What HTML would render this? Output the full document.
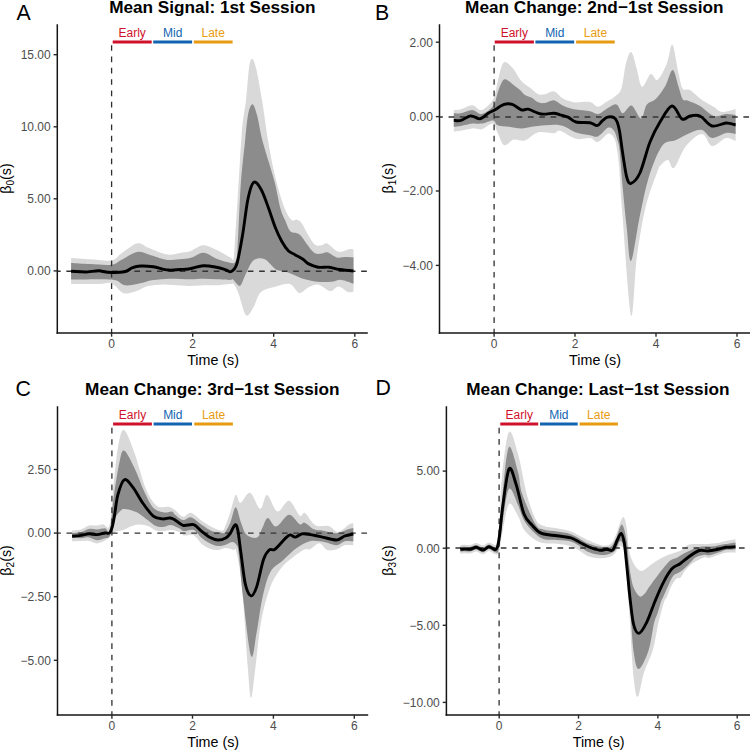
<!DOCTYPE html>
<html><head><meta charset="utf-8"><style>
html,body{margin:0;padding:0;background:#fff;width:750px;height:750px;overflow:hidden}
svg{display:block;font-family:"Liberation Sans",sans-serif}
</style></head><body>
<svg width="750" height="750" viewBox="0 0 750 750">
<rect width="750" height="750" fill="#fff"/>
<clipPath id="cA"><rect x="57.3" y="4.300000000000001" width="315.5" height="328.7"/></clipPath>
<g clip-path="url(#cA)">
<path d="M71.1,258.0C74.2,258.2 83.3,258.9 90.0,259.3C96.7,259.7 106.3,261.4 111.5,260.4C116.7,259.4 117.0,256.4 121.3,253.5C125.6,250.7 132.9,244.3 137.3,243.3C141.8,242.3 144.3,246.1 148.0,247.6C151.7,249.1 156.0,251.2 159.7,252.4C163.4,253.6 166.6,254.6 170.0,254.7C173.4,254.8 176.7,253.6 180.0,253.0C183.3,252.4 186.1,252.6 190.0,251.3C193.9,250.0 198.9,245.5 203.3,245.3C207.8,245.1 212.2,248.0 216.7,250.0C221.1,252.0 227.2,255.8 230.0,257.3C232.8,258.8 232.7,261.9 233.5,259.0C234.3,256.1 234.2,252.3 235.0,240.0C235.8,227.7 237.3,203.3 238.5,185.0C239.7,166.7 240.8,144.2 242.0,130.0C243.2,115.8 244.8,110.3 246.0,100.0C247.2,89.7 248.0,74.8 249.0,68.0C250.0,61.2 250.8,59.0 252.0,59.0C253.2,59.0 254.3,61.2 256.0,68.0C257.7,74.8 259.9,87.5 262.0,100.0C264.1,112.5 266.1,129.4 268.4,142.7C270.7,156.0 273.3,169.1 276.0,180.0C278.7,190.9 281.9,201.3 284.5,208.0C287.1,214.7 289.6,218.1 291.7,220.0C293.8,221.9 295.3,219.1 297.0,219.7C298.7,220.2 299.8,220.7 301.7,223.3C303.6,225.9 306.1,231.7 308.3,235.3C310.5,238.9 312.8,243.0 315.0,244.7C317.2,246.4 319.6,245.5 321.7,245.3C323.8,245.1 324.5,242.3 327.3,243.4C330.1,244.5 334.9,250.9 338.6,251.8C342.4,252.7 347.3,249.4 349.8,249.0C352.3,248.6 352.9,249.3 353.5,249.4L353.5,291.5C352.6,291.6 350.4,292.9 347.9,292.0C345.4,291.1 341.6,286.6 338.6,286.4C335.6,286.2 333.5,291.3 330.1,291.0C326.7,290.7 321.6,285.1 318.0,284.5C314.4,283.9 311.8,285.9 308.7,287.3C305.6,288.7 302.4,293.4 299.3,292.9C296.2,292.3 293.9,285.1 290.0,284.0C286.1,282.9 280.8,285.1 276.0,286.4C271.2,287.7 264.7,288.6 261.0,292.0C257.3,295.4 256.1,303.1 253.6,307.0C251.1,310.9 248.6,317.5 246.1,315.3C243.6,313.1 240.7,299.0 238.7,293.9C236.7,288.8 235.4,286.1 234.0,284.5C232.6,282.9 232.9,283.9 230.0,284.0C227.1,284.1 221.1,285.1 216.7,285.3C212.2,285.5 207.8,285.2 203.3,285.3C198.9,285.4 193.9,286.0 190.0,286.0C186.1,286.0 184.3,285.8 180.0,285.5C175.7,285.2 169.3,284.3 164.0,284.4C158.7,284.5 152.4,284.9 148.0,286.0C143.6,287.1 140.9,289.6 137.3,290.8C133.8,292.1 129.4,293.3 126.7,293.5C124.0,293.7 123.8,293.6 121.3,291.9C118.8,290.2 115.0,284.6 111.5,283.3C108.0,282.0 106.7,283.9 100.0,284.0C93.3,284.1 75.9,284.0 71.1,284.0Z" fill="#D9D9D9"/>
<path d="M71.1,263.0C74.2,263.2 83.3,263.8 90.0,264.1C96.7,264.4 106.3,265.4 111.5,264.7C116.7,264.0 117.0,262.0 121.3,259.9C125.6,257.8 132.5,252.7 137.3,251.9C142.1,251.1 145.7,253.8 150.1,255.0C154.5,256.2 160.7,258.5 164.0,259.3C167.3,260.1 165.7,260.2 170.0,260.0C174.3,259.8 184.4,259.2 190.0,258.0C195.6,256.8 198.9,252.6 203.3,252.7C207.8,252.8 212.2,257.0 216.7,258.7C221.1,260.4 226.9,262.1 230.0,262.7C233.1,263.2 233.8,264.2 235.0,262.0C236.2,259.8 236.6,262.1 237.5,249.3C238.4,236.5 239.5,203.1 240.7,185.3C241.9,167.5 243.7,154.4 244.9,142.7C246.1,131.0 246.8,121.4 248.0,115.0C249.2,108.6 250.9,104.3 252.4,104.3C253.9,104.3 255.2,108.6 257.0,115.0C258.8,121.4 260.1,131.9 263.0,142.7C265.9,153.5 271.2,169.1 274.1,180.0C277.0,190.9 278.5,201.3 280.3,208.0C282.1,214.7 283.3,216.1 285.0,220.0C286.7,223.9 288.3,229.1 290.3,231.3C292.3,233.5 295.1,232.4 297.0,233.3C298.9,234.2 299.8,234.6 301.7,236.7C303.6,238.8 306.1,243.2 308.3,246.0C310.5,248.8 312.7,252.1 315.0,253.3C317.3,254.6 319.9,253.7 322.0,253.5C324.1,253.3 324.9,251.7 327.3,252.3C329.8,253.0 333.6,256.6 336.7,257.4C339.8,258.2 343.2,257.0 346.0,257.0C348.8,257.0 352.2,257.3 353.5,257.4L353.5,283.6C351.5,283.0 344.9,280.2 341.3,279.9C337.7,279.6 336.1,281.4 332.0,281.7C327.9,282.0 321.7,282.1 317.0,281.7C312.3,281.2 307.7,280.1 304.0,279.0C300.3,277.9 297.8,276.4 294.7,275.2C291.6,273.9 288.4,272.4 285.3,271.5C282.2,270.6 279.4,271.6 276.0,269.6C272.6,267.6 268.5,260.9 264.8,259.3C261.1,257.8 256.7,258.0 253.6,260.3C250.5,262.6 248.3,269.1 246.1,273.3C243.9,277.5 242.2,283.9 240.5,285.5C238.8,287.1 237.2,284.0 236.0,283.0C234.8,282.0 234.0,280.0 233.0,279.5C232.0,279.0 232.7,280.0 230.0,280.0C227.3,280.0 221.1,279.5 216.7,279.3C212.2,279.1 207.8,278.7 203.3,278.7C198.9,278.7 195.6,279.3 190.0,279.3C184.4,279.3 176.1,278.6 170.0,278.7C163.9,278.8 157.9,279.4 153.3,280.1C148.8,280.8 146.2,282.0 142.7,282.8C139.1,283.6 135.2,284.5 132.0,284.9C128.8,285.2 126.9,285.8 123.5,284.9C120.1,284.0 120.2,280.5 111.5,279.6C102.8,278.7 77.8,279.6 71.1,279.6Z" fill="#8C8C8C"/>
<line x1="57.3" y1="271.2" x2="367.8" y2="271.2" stroke="#333" stroke-width="1.4" stroke-dasharray="5.67 5.67" stroke-dashoffset="2.3"/>
<line x1="111.6" y1="334.3" x2="111.6" y2="42" stroke="#2E2E2E" stroke-width="1.3" stroke-dasharray="5.67 5.67"/>
<path d="M71.1,271.3C72.6,271.4 77.2,271.7 80.0,271.8C82.8,271.9 84.8,272.1 88.0,271.9C91.2,271.7 95.7,270.7 99.0,270.8C102.3,270.9 103.8,272.1 108.0,272.3C112.2,272.5 120.5,272.5 124.5,271.8C128.5,271.1 129.3,268.9 132.0,267.9C134.7,266.9 136.9,266.2 140.5,266.0C144.1,265.8 148.7,266.1 153.3,266.8C157.9,267.5 163.9,269.6 168.3,270.0C172.8,270.4 176.4,269.7 180.0,269.5C183.6,269.3 186.1,269.3 190.0,268.7C193.9,268.1 198.9,265.9 203.3,265.7C207.8,265.5 212.9,266.6 216.7,267.3C220.5,268.0 223.6,269.3 226.0,270.0C228.4,270.7 229.4,272.5 231.2,271.5C233.0,270.5 234.9,269.9 236.8,264.0C238.7,258.1 240.5,246.9 242.4,236.0C244.3,225.1 246.1,207.6 248.0,198.7C249.9,189.8 251.4,183.9 253.6,182.3C255.8,180.7 258.5,185.0 261.0,189.3C263.5,193.6 266.2,201.8 268.5,208.0C270.8,214.2 272.8,221.1 275.0,226.7C277.2,232.2 279.5,237.3 281.7,241.3C283.9,245.3 286.1,248.5 288.3,250.7C290.5,252.9 292.6,253.3 295.0,254.7C297.4,256.1 300.7,257.8 303.0,259.3C305.3,260.8 306.2,262.6 308.7,263.9C311.2,265.2 314.6,266.6 318.0,267.2C321.4,267.8 325.6,266.8 329.2,267.2C332.8,267.6 335.4,268.9 339.5,269.5C343.6,270.1 351.2,270.8 353.5,271.0" fill="none" stroke="#000" stroke-width="2.9" stroke-linejoin="round" stroke-linecap="butt"/>
</g>
<line x1="112.7" y1="42.1" x2="151.7" y2="42.1" stroke="#D0112B" stroke-width="3"/>
<text x="132.2" y="37.4" font-size="12" text-anchor="middle" font-weight="normal" fill="#D0112B" >Early</text>
<line x1="153.2" y1="42.1" x2="192.1" y2="42.1" stroke="#1264B2" stroke-width="3"/>
<text x="172.64999999999998" y="37.4" font-size="12" text-anchor="middle" font-weight="normal" fill="#1264B2" >Mid</text>
<line x1="193.8" y1="42.1" x2="232.6" y2="42.1" stroke="#E89B10" stroke-width="3"/>
<text x="213.2" y="37.4" font-size="12" text-anchor="middle" font-weight="normal" fill="#E89B10" >Late</text>
<line x1="57.3" y1="24.3" x2="57.3" y2="333.75" stroke="#151515" stroke-width="1.5"/>
<line x1="56.55" y1="333" x2="367.8" y2="333" stroke="#151515" stroke-width="1.5"/>
<line x1="53.599999999999994" y1="270.9" x2="57.3" y2="270.9" stroke="#2A2A2A" stroke-width="1.4"/>
<text x="50.699999999999996" y="275.2" font-size="12" text-anchor="end" font-weight="normal" fill="#4D4D4D" >0.00</text>
<line x1="53.599999999999994" y1="198.8" x2="57.3" y2="198.8" stroke="#2A2A2A" stroke-width="1.4"/>
<text x="50.699999999999996" y="203.10000000000002" font-size="12" text-anchor="end" font-weight="normal" fill="#4D4D4D" >5.00</text>
<line x1="53.599999999999994" y1="126.8" x2="57.3" y2="126.8" stroke="#2A2A2A" stroke-width="1.4"/>
<text x="50.699999999999996" y="131.1" font-size="12" text-anchor="end" font-weight="normal" fill="#4D4D4D" >10.00</text>
<line x1="53.599999999999994" y1="54.7" x2="57.3" y2="54.7" stroke="#2A2A2A" stroke-width="1.4"/>
<text x="50.699999999999996" y="59.0" font-size="12" text-anchor="end" font-weight="normal" fill="#4D4D4D" >15.00</text>
<line x1="111.6" y1="333" x2="111.6" y2="336.7" stroke="#2A2A2A" stroke-width="1.4"/>
<text x="111.6" y="348.2" font-size="12" text-anchor="middle" font-weight="normal" fill="#4D4D4D" >0</text>
<line x1="192.7" y1="333" x2="192.7" y2="336.7" stroke="#2A2A2A" stroke-width="1.4"/>
<text x="192.7" y="348.2" font-size="12" text-anchor="middle" font-weight="normal" fill="#4D4D4D" >2</text>
<line x1="273.7" y1="333" x2="273.7" y2="336.7" stroke="#2A2A2A" stroke-width="1.4"/>
<text x="273.7" y="348.2" font-size="12" text-anchor="middle" font-weight="normal" fill="#4D4D4D" >4</text>
<line x1="354.8" y1="333" x2="354.8" y2="336.7" stroke="#2A2A2A" stroke-width="1.4"/>
<text x="354.8" y="348.2" font-size="12" text-anchor="middle" font-weight="normal" fill="#4D4D4D" >6</text>
<text x="212.3" y="13.2" font-size="17.2" text-anchor="middle" font-weight="bold" fill="#000" >Mean Signal: 1st Session</text>
<text x="213.10000000000002" y="364.8" font-size="14.3" text-anchor="middle" font-weight="normal" fill="#000" >Time (s)</text>
<text transform="translate(10.9,178.5) rotate(-90)" font-size="14.3" text-anchor="middle" fill="#000">β<tspan font-size="10" dy="3">0</tspan><tspan dy="-3">(s)</tspan></text>
<text x="16.5" y="20.0" font-size="21.3" text-anchor="start" font-weight="normal" fill="#000" >A</text>
<clipPath id="cB"><rect x="439.5" y="4.300000000000001" width="316.5" height="328.7"/></clipPath>
<g clip-path="url(#cB)">
<path d="M453.8,110.0C455.0,109.9 457.9,110.0 461.0,109.2C464.1,108.4 468.7,105.1 472.2,105.2C475.7,105.3 478.3,111.0 481.8,110.0C485.3,109.0 490.7,103.8 493.3,99.3C495.9,94.8 496.0,88.6 497.3,83.3C498.6,78.0 500.0,70.8 501.3,67.3C502.6,63.8 503.3,61.8 505.3,62.0C507.3,62.2 510.8,65.8 513.3,68.7C515.8,71.6 518.0,76.7 520.0,79.3C522.0,81.9 523.0,82.7 525.0,84.3C527.0,85.9 529.5,87.3 531.7,89.0C533.9,90.7 536.1,93.4 538.3,94.3C540.5,95.2 542.4,94.8 545.0,94.3C547.6,93.8 550.9,90.7 553.7,91.3C556.5,91.9 559.3,96.1 561.7,97.7C564.1,99.3 565.9,99.9 568.3,100.7C570.7,101.5 572.4,102.3 576.0,102.5C579.6,102.7 586.3,101.3 590.0,102.0C593.7,102.7 595.3,106.8 598.0,106.8C600.7,106.8 603.3,103.6 606.0,102.0C608.7,100.4 611.5,99.4 614.0,97.2C616.5,95.0 619.3,94.4 621.3,88.7C623.3,83.0 624.3,69.4 626.0,63.3C627.7,57.2 629.5,51.1 631.3,52.0C633.1,52.9 634.9,62.9 636.7,68.7C638.5,74.5 639.7,85.8 642.0,86.7C644.3,87.6 648.2,75.1 650.7,74.0C653.2,72.9 654.9,81.1 657.3,80.0C659.7,78.9 663.4,71.2 665.3,67.3C667.2,63.4 667.5,60.4 668.7,56.7C669.9,53.0 671.0,42.1 672.7,45.0C674.4,47.9 677.0,66.7 678.7,74.0C680.4,81.3 680.8,86.0 682.7,88.7C684.6,91.4 686.8,88.1 690.0,90.0C693.2,91.9 698.0,97.2 702.0,100.0C706.0,102.8 710.7,105.0 714.0,107.0C717.3,109.0 718.4,111.7 722.0,112.0C725.6,112.3 733.3,109.5 735.6,109.0L735.6,141.0C734.0,140.5 729.9,137.2 726.0,138.0C722.1,138.8 716.0,146.7 712.0,146.0C708.0,145.3 706.3,134.0 702.0,134.0C697.7,134.0 690.7,140.3 686.0,146.0C681.3,151.7 677.0,165.7 674.0,168.0C671.0,170.3 670.2,160.5 668.0,160.0C665.8,159.5 662.8,163.1 661.0,165.0C659.2,166.9 659.9,164.6 657.4,171.6C654.9,178.6 649.1,192.6 645.7,206.8C642.3,221.0 639.4,238.5 636.9,256.6C634.4,274.7 633.4,322.6 631.0,315.3C628.6,308.0 624.3,237.7 622.3,212.6C620.3,187.5 620.0,176.1 619.0,165.0C618.0,153.9 617.2,150.5 616.4,146.0C615.6,141.5 615.3,140.1 614.0,138.0C612.7,135.9 611.1,132.9 608.4,133.6C605.7,134.3 601.1,141.3 598.0,142.0C594.9,142.7 593.7,138.5 590.0,138.0C586.3,137.5 581.0,140.0 576.0,138.8C571.0,137.6 563.7,131.7 560.0,130.8C556.3,129.9 557.5,132.9 553.8,133.2C550.1,133.5 542.6,131.2 537.8,132.4C533.0,133.6 529.0,139.2 525.0,140.4C521.0,141.6 517.3,138.8 513.8,139.6C510.3,140.4 506.9,146.3 504.2,145.2C501.5,144.1 499.7,136.8 497.8,133.2C495.9,129.6 495.7,124.3 493.0,123.6C490.3,122.9 485.3,128.4 481.8,129.2C478.3,130.0 475.7,128.1 472.2,128.4C468.7,128.7 464.1,130.3 461.0,130.8C457.9,131.3 455.0,131.5 453.8,131.6Z" fill="#D9D9D9"/>
<path d="M453.8,113.2C455.0,113.2 457.9,113.7 461.0,113.2C464.1,112.7 468.7,109.9 472.2,110.0C475.7,110.1 478.3,114.7 481.8,114.0C485.3,113.3 490.7,109.3 493.3,106.0C495.9,102.7 496.0,97.8 497.3,94.0C498.6,90.2 500.0,85.8 501.3,83.3C502.6,80.8 503.3,79.1 505.3,79.3C507.3,79.5 510.8,82.9 513.3,84.7C515.8,86.5 518.0,88.3 520.0,90.0C522.0,91.7 523.0,93.7 525.0,95.0C527.0,96.3 529.5,96.5 531.7,97.7C533.9,98.9 536.1,101.4 538.3,102.3C540.5,103.2 542.4,103.3 545.0,103.0C547.6,102.7 550.9,100.0 553.7,100.3C556.5,100.6 559.3,103.8 561.7,105.0C564.1,106.2 565.9,107.0 568.3,107.7C570.7,108.5 572.4,108.9 576.0,109.5C579.6,110.1 586.3,110.5 590.0,111.2C593.7,112.0 595.3,114.3 598.0,114.0C600.7,113.7 602.9,110.8 606.0,109.2C609.1,107.6 613.6,103.7 616.4,104.4C619.2,105.1 620.3,113.0 622.8,113.2C625.3,113.4 628.6,104.7 631.6,105.6C634.6,106.5 638.5,118.7 641.0,118.5C643.5,118.3 644.2,108.0 646.7,104.7C649.2,101.4 652.9,101.8 656.0,98.7C659.1,95.6 662.5,90.8 665.3,86.0C668.1,81.2 670.5,69.8 672.7,70.0C674.9,70.2 677.0,82.4 678.7,87.3C680.4,92.2 681.2,97.1 682.7,99.3C684.2,101.5 685.1,99.6 688.0,100.7C690.9,101.8 695.7,103.5 700.0,106.0C704.3,108.5 709.7,114.7 714.0,116.0C718.3,117.3 722.4,114.2 726.0,114.0C729.6,113.8 734.0,114.8 735.6,115.0L735.6,134.0C734.0,133.8 729.9,132.3 726.0,133.0C722.1,133.7 716.0,138.5 712.0,138.0C708.0,137.5 705.7,130.8 702.0,130.0C698.3,129.2 694.3,131.3 690.0,133.0C685.7,134.7 680.7,137.8 676.0,140.0C671.3,142.2 666.5,139.8 662.0,146.0C657.5,152.2 652.4,165.8 648.7,177.4C645.0,189.0 642.9,201.7 639.9,215.6C636.9,229.5 633.2,259.1 631.0,261.0C628.8,262.9 628.2,240.2 626.7,227.3C625.2,214.4 623.5,196.2 622.3,183.3C621.1,170.4 620.5,157.3 619.6,150.0C618.8,142.7 618.1,142.8 617.2,139.6C616.3,136.4 615.5,132.8 614.0,130.8C612.5,128.8 611.1,126.7 608.4,127.6C605.7,128.5 601.1,135.1 598.0,136.4C594.9,137.7 593.7,135.9 590.0,135.2C586.3,134.5 581.0,134.1 576.0,132.4C571.0,130.7 566.4,126.3 560.0,125.2C553.6,124.1 544.2,125.5 537.8,126.0C531.4,126.5 526.6,128.3 521.8,128.4C517.0,128.5 513.0,127.3 509.0,126.8C505.0,126.3 500.5,126.3 497.8,125.2C495.1,124.1 495.7,120.7 493.0,120.4C490.3,120.1 485.3,123.1 481.8,123.6C478.3,124.1 475.7,123.2 472.2,123.6C468.7,124.0 464.1,125.5 461.0,126.0C457.9,126.5 455.0,126.7 453.8,126.8Z" fill="#8C8C8C"/>
<line x1="439.5" y1="117.0" x2="751" y2="117.0" stroke="#333" stroke-width="1.4" stroke-dasharray="5.67 5.67" stroke-dashoffset="2.3"/>
<line x1="494.1" y1="334.3" x2="494.1" y2="42" stroke="#2E2E2E" stroke-width="1.3" stroke-dasharray="5.67 5.67"/>
<path d="M453.8,120.4C455.0,120.4 458.2,121.2 461.0,120.4C463.8,119.7 467.4,116.2 470.6,115.9C473.8,115.6 477.3,119.2 480.2,118.8C483.1,118.3 485.8,114.7 488.2,113.2C490.6,111.7 491.9,111.5 494.6,110.0C497.3,108.5 501.3,105.3 504.2,104.4C507.1,103.5 509.3,103.5 512.2,104.4C515.1,105.3 519.1,109.2 521.8,110.0C524.5,110.8 525.0,108.5 528.2,109.2C531.4,109.9 536.7,113.3 541.0,114.0C545.3,114.7 550.6,113.1 553.8,113.2C557.0,113.3 557.6,114.1 560.0,114.8C562.4,115.5 565.3,116.0 568.0,117.2C570.7,118.4 572.3,121.1 576.0,122.0C579.7,122.9 586.5,122.2 590.0,122.8C593.5,123.4 595.2,125.9 597.2,125.6C599.2,125.3 600.3,122.6 602.0,121.2C603.7,119.8 605.6,117.8 607.6,117.2C609.6,116.6 612.4,116.8 614.0,117.6C615.6,118.4 616.3,119.7 617.2,122.0C618.1,124.3 618.7,126.6 619.6,131.6C620.5,136.6 621.3,144.4 622.5,152.0C623.7,159.6 625.3,171.8 626.7,177.0C628.1,182.2 628.8,184.0 631.0,183.3C633.2,182.6 636.7,179.9 639.9,173.0C643.1,166.1 646.6,150.5 650.0,142.0C653.4,133.5 656.3,128.0 660.0,122.0C663.7,116.0 668.3,106.5 672.0,106.0C675.7,105.5 679.0,117.3 682.0,119.0C685.0,120.7 687.0,116.5 690.0,116.0C693.0,115.5 696.3,114.3 700.0,116.0C703.7,117.7 707.7,124.8 712.0,126.0C716.3,127.2 722.1,123.2 726.0,123.0C729.9,122.8 734.0,124.7 735.6,125.0" fill="none" stroke="#000" stroke-width="2.9" stroke-linejoin="round" stroke-linecap="butt"/>
</g>
<line x1="494.7" y1="42.1" x2="533.9" y2="42.1" stroke="#D0112B" stroke-width="3"/>
<text x="514.3" y="37.4" font-size="12" text-anchor="middle" font-weight="normal" fill="#D0112B" >Early</text>
<line x1="535.4" y1="42.1" x2="574.2" y2="42.1" stroke="#1264B2" stroke-width="3"/>
<text x="554.8" y="37.4" font-size="12" text-anchor="middle" font-weight="normal" fill="#1264B2" >Mid</text>
<line x1="576.1" y1="42.1" x2="614.7" y2="42.1" stroke="#E89B10" stroke-width="3"/>
<text x="595.4000000000001" y="37.4" font-size="12" text-anchor="middle" font-weight="normal" fill="#E89B10" >Late</text>
<line x1="439.5" y1="24.3" x2="439.5" y2="333.75" stroke="#151515" stroke-width="1.5"/>
<line x1="438.75" y1="333" x2="751" y2="333" stroke="#151515" stroke-width="1.5"/>
<line x1="435.8" y1="42.2" x2="439.5" y2="42.2" stroke="#2A2A2A" stroke-width="1.4"/>
<text x="432.9" y="46.5" font-size="12" text-anchor="end" font-weight="normal" fill="#4D4D4D" >2.00</text>
<line x1="435.8" y1="116.6" x2="439.5" y2="116.6" stroke="#2A2A2A" stroke-width="1.4"/>
<text x="432.9" y="120.89999999999999" font-size="12" text-anchor="end" font-weight="normal" fill="#4D4D4D" >0.00</text>
<line x1="435.8" y1="191.0" x2="439.5" y2="191.0" stroke="#2A2A2A" stroke-width="1.4"/>
<text x="432.9" y="195.3" font-size="12" text-anchor="end" font-weight="normal" fill="#4D4D4D" >−2.00</text>
<line x1="435.8" y1="265.4" x2="439.5" y2="265.4" stroke="#2A2A2A" stroke-width="1.4"/>
<text x="432.9" y="269.7" font-size="12" text-anchor="end" font-weight="normal" fill="#4D4D4D" >−4.00</text>
<line x1="494.1" y1="333" x2="494.1" y2="336.7" stroke="#2A2A2A" stroke-width="1.4"/>
<text x="494.1" y="348.2" font-size="12" text-anchor="middle" font-weight="normal" fill="#4D4D4D" >0</text>
<line x1="575.0" y1="333" x2="575.0" y2="336.7" stroke="#2A2A2A" stroke-width="1.4"/>
<text x="575.0" y="348.2" font-size="12" text-anchor="middle" font-weight="normal" fill="#4D4D4D" >2</text>
<line x1="656.0" y1="333" x2="656.0" y2="336.7" stroke="#2A2A2A" stroke-width="1.4"/>
<text x="656.0" y="348.2" font-size="12" text-anchor="middle" font-weight="normal" fill="#4D4D4D" >4</text>
<line x1="737.0" y1="333" x2="737.0" y2="336.7" stroke="#2A2A2A" stroke-width="1.4"/>
<text x="737.0" y="348.2" font-size="12" text-anchor="middle" font-weight="normal" fill="#4D4D4D" >6</text>
<text x="594.25" y="13.2" font-size="17.2" text-anchor="middle" font-weight="bold" fill="#000" >Mean Change: 2nd−1st Session</text>
<text x="595.05" y="364.8" font-size="14.3" text-anchor="middle" font-weight="normal" fill="#000" >Time (s)</text>
<text transform="translate(392.6,178.3) rotate(-90)" font-size="14.3" text-anchor="middle" fill="#000">β<tspan font-size="10" dy="3">1</tspan><tspan dy="-3">(s)</tspan></text>
<text x="375.0" y="20.0" font-size="21.3" text-anchor="start" font-weight="normal" fill="#000" >B</text>
<clipPath id="cC"><rect x="57.5" y="386.3" width="315.7" height="328.7"/></clipPath>
<g clip-path="url(#cC)">
<path d="M72.1,530.6C73.6,530.4 78.2,530.3 81.0,529.4C83.8,528.5 86.3,526.1 89.0,525.4C91.7,524.7 94.6,525.6 97.0,525.4C99.4,525.2 101.3,524.3 103.4,524.2C105.5,524.1 108.0,532.0 109.8,524.6C111.6,517.2 112.5,493.4 114.0,479.7C115.5,466.0 117.1,450.6 118.8,442.4C120.5,434.2 121.8,428.4 124.4,430.3C127.1,432.2 131.1,443.8 134.7,453.6C138.3,463.4 142.2,480.3 145.9,489.0C149.6,497.7 153.3,502.9 157.0,505.9C160.7,508.9 165.3,506.1 168.3,506.8C171.3,507.5 172.6,508.4 175.0,510.0C177.4,511.6 180.3,516.2 183.0,516.7C185.7,517.2 187.9,512.0 191.0,512.7C194.1,513.4 198.1,518.3 201.7,520.7C205.2,523.1 209.0,525.6 212.3,527.3C215.6,529.0 219.6,530.8 221.7,530.7C223.8,530.6 223.6,530.0 225.0,526.9C226.4,523.8 228.5,517.3 230.3,512.0C232.1,506.7 234.0,496.4 235.7,494.9C237.4,493.4 238.1,503.2 240.5,502.9C242.9,502.5 246.8,491.8 250.1,492.8C253.4,493.8 257.4,508.5 260.2,508.8C263.0,509.1 264.2,494.4 267.1,494.9C270.0,495.3 273.7,510.5 277.3,511.5C280.9,512.5 285.3,500.1 289.0,500.8C292.7,501.5 297.0,513.7 299.7,515.7C302.4,517.8 302.4,511.5 305.0,513.1C307.6,514.7 311.4,523.1 315.3,525.3C319.2,527.4 324.9,524.9 328.7,526.0C332.5,527.1 334.7,532.2 338.0,532.0C341.3,531.8 346.1,526.2 348.7,524.7C351.2,523.2 352.5,523.5 353.3,523.3L353.3,545.3C351.9,545.3 347.5,544.6 344.7,545.3C341.9,546.0 339.6,548.5 336.7,549.3C333.8,550.1 330.2,551.0 327.3,550.0C324.4,549.0 322.2,543.4 319.3,543.3C316.4,543.2 312.4,548.3 310.0,549.3C307.6,550.3 307.8,548.0 305.0,549.3C302.2,550.6 296.9,554.2 293.0,557.2C289.1,560.2 285.5,562.5 281.7,567.4C277.9,572.3 273.8,577.8 270.4,586.7C267.0,595.6 263.8,607.5 261.3,620.7C258.8,633.9 257.3,653.1 255.6,666.0C253.9,678.9 252.4,697.8 251.1,697.8C249.8,697.8 249.2,684.5 247.7,666.0C246.2,647.5 243.9,605.8 242.0,586.7C240.1,567.6 237.7,557.6 236.3,551.5C234.9,545.4 235.5,550.6 233.7,550.0C231.9,549.4 228.4,548.0 225.7,548.0C223.0,548.0 220.4,549.9 217.7,550.0C215.0,550.1 212.4,549.7 209.7,548.7C207.0,547.7 204.4,546.2 201.7,544.0C199.0,541.8 196.6,536.7 193.7,535.3C190.8,533.9 186.3,536.0 184.0,535.5C181.7,535.0 182.2,532.9 180.0,532.0C177.8,531.1 173.7,530.1 171.0,529.9C168.3,529.7 166.5,530.8 164.0,530.9C161.5,531.0 158.7,531.2 156.0,530.4C153.3,529.6 150.7,527.1 148.0,526.1C145.3,525.1 142.7,524.6 140.0,524.6C137.3,524.6 134.7,525.1 132.0,526.0C129.3,526.9 127.1,528.7 124.0,529.7C120.9,530.8 115.5,531.1 113.3,532.3C111.1,533.4 112.0,535.2 110.6,536.6C109.2,538.0 107.3,539.5 105.0,540.6C102.7,541.7 99.7,543.3 97.0,543.4C94.3,543.5 91.7,541.4 89.0,541.0C86.3,540.6 83.8,540.9 81.0,541.0C78.2,541.1 73.6,541.3 72.1,541.4Z" fill="#D9D9D9"/>
<path d="M72.1,533.0C73.6,532.9 78.2,532.9 81.0,532.2C83.8,531.5 86.3,529.5 89.0,529.0C91.7,528.5 94.3,529.5 97.0,529.4C99.7,529.3 102.9,528.1 105.0,528.2C107.1,528.3 108.3,535.8 109.8,530.2C111.3,524.6 112.3,506.2 114.0,494.7C115.7,483.2 118.0,468.3 119.7,461.0C121.4,453.7 121.9,449.6 124.4,450.8C126.9,452.1 131.4,461.8 134.7,468.5C138.0,475.2 140.9,484.5 144.0,491.0C147.1,497.5 149.9,504.1 153.3,507.7C156.7,511.3 161.4,511.8 164.5,512.4C167.6,513.0 170.2,511.1 172.0,511.5C173.8,511.9 173.2,513.3 175.0,514.7C176.8,516.1 180.3,519.6 183.0,520.0C185.7,520.4 187.9,516.5 191.0,517.3C194.1,518.1 198.1,522.4 201.7,524.7C205.2,527.0 209.0,530.0 212.3,531.3C215.6,532.6 219.6,532.5 221.7,532.7C223.8,532.9 223.6,534.0 225.0,532.3C226.4,530.6 228.5,526.9 230.3,522.7C232.1,518.5 233.9,507.2 235.7,507.2C237.5,507.2 239.2,518.2 241.0,522.7C242.8,527.2 243.6,531.9 246.3,534.4C249.0,536.9 254.3,538.7 257.0,537.6C259.7,536.5 260.5,531.3 262.3,528.0C264.1,524.7 265.4,518.2 267.7,517.9C270.0,517.6 272.6,526.9 276.2,526.4C279.8,525.9 285.1,515.1 289.0,514.7C292.9,514.4 297.1,523.0 299.7,524.3C302.3,525.6 302.3,521.9 304.7,522.7C307.1,523.5 310.9,528.0 314.0,529.3C317.1,530.6 319.5,530.0 323.3,530.7C327.1,531.4 332.9,533.4 336.7,533.3C340.5,533.2 343.2,530.9 346.0,530.0C348.8,529.1 352.1,528.3 353.3,528.0L353.3,541.3C351.9,541.3 347.5,540.6 344.7,541.3C341.9,542.0 339.6,545.1 336.7,545.3C333.8,545.5 330.2,543.4 327.3,542.7C324.4,542.0 322.2,541.5 319.3,541.3C316.4,541.1 313.8,540.2 310.0,541.3C306.2,542.4 301.1,544.9 296.7,548.0C292.2,551.1 287.7,556.0 283.3,560.0C278.9,564.0 273.9,565.7 270.4,572.0C266.9,578.3 264.7,588.0 262.4,598.0C260.1,608.0 258.6,622.4 256.7,632.0C254.8,641.6 253.4,661.6 251.1,655.9C248.8,650.2 245.2,615.2 243.1,598.0C241.0,580.8 239.7,561.6 238.6,552.7C237.5,543.8 237.4,546.5 236.3,544.7C235.2,542.9 234.1,542.0 232.3,542.0C230.5,542.0 228.1,544.0 225.7,544.7C223.3,545.4 220.4,546.2 217.7,546.0C215.0,545.8 212.4,544.6 209.7,543.3C207.0,542.0 204.4,540.2 201.7,538.0C199.0,535.8 196.6,531.2 193.7,530.0C190.8,528.8 186.3,531.2 184.0,531.0C181.7,530.8 182.2,529.8 180.0,528.8C177.8,527.8 173.7,525.4 171.0,525.0C168.3,524.6 166.5,526.5 164.0,526.7C161.5,526.9 158.7,527.2 156.0,526.1C153.3,525.0 150.2,521.9 148.0,520.3C145.8,518.7 144.5,517.6 142.7,516.3C140.9,515.0 139.1,513.6 137.3,512.6C135.5,511.6 134.1,511.1 132.0,510.5C129.9,509.9 126.8,509.2 125.0,509.1C123.2,509.0 123.0,508.4 121.3,510.0C119.6,511.6 116.8,514.2 114.9,518.5C113.0,522.8 111.5,532.5 109.8,535.8C108.1,539.1 107.1,537.5 105.0,538.2C102.9,538.9 99.7,540.3 97.0,540.2C94.3,540.1 91.7,537.7 89.0,537.4C86.3,537.1 83.8,538.1 81.0,538.2C78.2,538.3 73.6,537.9 72.1,537.8Z" fill="#8C8C8C"/>
<line x1="57.5" y1="533.1" x2="368.2" y2="533.1" stroke="#333" stroke-width="1.4" stroke-dasharray="5.67 5.67" stroke-dashoffset="2.3"/>
<line x1="111.9" y1="717.0" x2="111.9" y2="424" stroke="#2E2E2E" stroke-width="1.3" stroke-dasharray="5.67 5.67"/>
<path d="M72.1,536.2C73.6,536.1 78.2,535.8 81.0,535.4C83.8,535.0 86.3,533.9 89.0,533.8C91.7,533.7 94.3,534.7 97.0,534.6C99.7,534.5 102.9,533.3 105.0,533.0C107.1,532.7 108.2,534.0 109.4,533.0C110.6,532.0 111.3,530.0 112.2,527.0C113.1,524.0 113.6,520.4 114.6,515.0C115.5,509.6 116.3,500.6 117.9,494.7C119.5,488.8 121.9,480.9 124.4,479.7C126.9,478.4 129.9,483.5 132.8,487.2C135.8,490.9 138.7,497.3 142.1,502.1C145.5,506.9 149.9,513.3 153.3,516.1C156.7,518.9 159.9,518.6 162.7,518.9C165.5,519.2 168.0,517.8 170.1,518.0C172.2,518.2 172.8,518.8 175.0,520.0C177.2,521.2 179.9,524.5 183.0,525.3C186.1,526.1 190.6,523.7 193.7,524.7C196.8,525.7 199.0,529.2 201.7,531.3C204.4,533.4 207.0,535.8 209.7,537.3C212.4,538.8 215.0,539.9 217.7,540.0C220.4,540.1 223.6,539.1 225.7,538.0C227.8,536.9 228.7,535.5 230.3,533.3C231.9,531.1 233.8,525.3 235.1,524.8C236.3,524.3 236.8,525.5 237.8,530.1C238.8,534.8 239.6,543.7 240.9,552.7C242.2,561.8 243.7,577.2 245.4,584.4C247.1,591.6 249.2,595.4 251.1,595.8C253.0,596.2 254.6,592.8 256.7,586.7C258.8,580.7 261.4,565.6 263.5,559.5C265.6,553.4 267.3,551.7 269.2,550.0C271.1,548.3 272.3,551.1 274.9,549.3C277.5,547.5 282.2,541.4 284.7,539.0C287.2,536.6 288.2,535.2 290.0,534.9C291.8,534.6 293.4,537.3 295.4,537.1C297.4,536.9 300.0,534.4 301.8,533.9C303.6,533.4 304.0,533.8 306.0,534.0C308.0,534.2 311.1,534.8 314.0,535.3C316.9,535.8 319.5,536.5 323.3,537.3C327.1,538.1 333.1,540.2 336.7,540.0C340.3,539.8 341.9,537.0 344.7,536.0C347.5,535.0 351.9,534.3 353.3,534.0" fill="none" stroke="#000" stroke-width="2.9" stroke-linejoin="round" stroke-linecap="butt"/>
</g>
<line x1="113.1" y1="424.0" x2="151.9" y2="424.0" stroke="#D0112B" stroke-width="3"/>
<text x="132.5" y="419.3" font-size="12" text-anchor="middle" font-weight="normal" fill="#D0112B" >Early</text>
<line x1="153.6" y1="424.0" x2="192.0" y2="424.0" stroke="#1264B2" stroke-width="3"/>
<text x="172.8" y="419.3" font-size="12" text-anchor="middle" font-weight="normal" fill="#1264B2" >Mid</text>
<line x1="194.3" y1="424.0" x2="232.9" y2="424.0" stroke="#E89B10" stroke-width="3"/>
<text x="213.60000000000002" y="419.3" font-size="12" text-anchor="middle" font-weight="normal" fill="#E89B10" >Late</text>
<line x1="57.5" y1="406.3" x2="57.5" y2="715.75" stroke="#151515" stroke-width="1.5"/>
<line x1="56.75" y1="715" x2="368.2" y2="715" stroke="#151515" stroke-width="1.5"/>
<line x1="53.8" y1="469.5" x2="57.5" y2="469.5" stroke="#2A2A2A" stroke-width="1.4"/>
<text x="50.9" y="473.8" font-size="12" text-anchor="end" font-weight="normal" fill="#4D4D4D" >2.50</text>
<line x1="53.8" y1="533.1" x2="57.5" y2="533.1" stroke="#2A2A2A" stroke-width="1.4"/>
<text x="50.9" y="537.4" font-size="12" text-anchor="end" font-weight="normal" fill="#4D4D4D" >0.00</text>
<line x1="53.8" y1="596.7" x2="57.5" y2="596.7" stroke="#2A2A2A" stroke-width="1.4"/>
<text x="50.9" y="601.0" font-size="12" text-anchor="end" font-weight="normal" fill="#4D4D4D" >−2.50</text>
<line x1="53.8" y1="660.3" x2="57.5" y2="660.3" stroke="#2A2A2A" stroke-width="1.4"/>
<text x="50.9" y="664.5999999999999" font-size="12" text-anchor="end" font-weight="normal" fill="#4D4D4D" >−5.00</text>
<line x1="111.9" y1="715" x2="111.9" y2="718.7" stroke="#2A2A2A" stroke-width="1.4"/>
<text x="111.9" y="730.2" font-size="12" text-anchor="middle" font-weight="normal" fill="#4D4D4D" >0</text>
<line x1="192.5" y1="715" x2="192.5" y2="718.7" stroke="#2A2A2A" stroke-width="1.4"/>
<text x="192.5" y="730.2" font-size="12" text-anchor="middle" font-weight="normal" fill="#4D4D4D" >2</text>
<line x1="273.4" y1="715" x2="273.4" y2="718.7" stroke="#2A2A2A" stroke-width="1.4"/>
<text x="273.4" y="730.2" font-size="12" text-anchor="middle" font-weight="normal" fill="#4D4D4D" >4</text>
<line x1="354.3" y1="715" x2="354.3" y2="718.7" stroke="#2A2A2A" stroke-width="1.4"/>
<text x="354.3" y="730.2" font-size="12" text-anchor="middle" font-weight="normal" fill="#4D4D4D" >6</text>
<text x="212.35" y="395.1" font-size="17.2" text-anchor="middle" font-weight="bold" fill="#000" >Mean Change: 3rd−1st Session</text>
<text x="213.15" y="746.8" font-size="14.3" text-anchor="middle" font-weight="normal" fill="#000" >Time (s)</text>
<text transform="translate(10.9,560.4) rotate(-90)" font-size="14.3" text-anchor="middle" fill="#000">β<tspan font-size="10" dy="3">2</tspan><tspan dy="-3">(s)</tspan></text>
<text x="15.6" y="395.9" font-size="21.3" text-anchor="start" font-weight="normal" fill="#000" >C</text>
<clipPath id="cD"><rect x="446.4" y="386.3" width="309.6" height="328.59999999999997"/></clipPath>
<g clip-path="url(#cD)">
<path d="M460.3,545.0C461.1,545.0 463.3,544.8 465.0,544.8C466.7,544.8 468.4,545.3 470.3,545.0C472.2,544.7 474.2,542.9 476.3,543.0C478.4,543.1 480.9,545.6 483.0,545.5C485.1,545.4 487.0,542.6 489.0,542.5C491.0,542.4 493.6,545.2 495.0,545.0C496.4,544.8 496.8,545.2 497.5,541.0C498.2,536.8 498.8,530.8 499.5,520.0C500.2,509.2 500.4,490.7 502.0,476.0C503.6,461.3 506.3,435.7 509.0,432.0C511.7,428.3 515.0,443.7 518.0,454.0C521.0,464.3 523.8,483.1 526.7,494.0C529.7,504.9 533.0,514.0 535.7,519.3C538.4,524.6 539.6,524.2 543.1,525.7C546.6,527.2 552.4,527.3 557.0,528.3C561.6,529.3 565.6,529.5 570.9,531.5C576.2,533.5 583.9,538.3 589.0,540.6C594.1,542.9 598.2,544.8 601.8,545.4C605.4,546.0 608.3,545.8 610.7,544.0C613.1,542.2 614.0,539.2 616.0,534.7C618.0,530.2 621.0,518.3 622.8,517.2C624.6,516.1 625.7,522.6 626.7,528.0C627.7,533.4 628.0,544.0 629.0,549.6C630.0,555.2 631.2,558.4 632.6,561.6C634.0,564.8 635.8,567.3 637.4,568.8C639.0,570.3 640.0,571.7 642.5,570.8C645.0,569.9 648.9,566.0 652.7,563.5C656.5,561.0 660.9,558.1 665.5,556.0C670.1,553.9 676.6,552.6 680.4,550.7C684.2,548.8 685.4,545.8 688.5,544.7C691.6,543.6 696.0,544.2 699.2,544.1C702.4,544.0 704.7,544.3 707.7,544.1C710.7,543.9 714.3,543.6 717.3,543.1C720.3,542.6 722.9,541.6 725.9,541.0C728.9,540.4 733.9,539.6 735.5,539.3L735.5,552.7C733.9,552.7 728.5,552.5 725.9,552.7C723.3,553.0 722.8,553.3 720.0,554.2C717.2,555.1 712.0,557.4 709.3,557.9C706.6,558.4 706.6,556.6 704.0,557.4C701.4,558.2 696.6,560.5 693.4,562.7C690.2,564.9 687.0,568.2 684.9,570.7C682.8,573.2 682.0,576.3 680.6,577.6C679.2,578.9 677.9,577.2 676.3,578.7C674.7,580.2 672.6,583.6 671.0,586.7C669.4,589.8 667.9,594.8 666.7,597.3C665.6,599.8 665.5,597.7 664.1,602.0C662.7,606.3 660.2,615.3 658.3,623.3C656.4,631.3 655.3,641.9 652.9,650.0C650.5,658.1 646.6,664.4 644.1,672.2C641.6,680.0 639.5,696.0 637.7,696.7C635.9,697.4 634.9,690.1 633.5,676.5C632.1,662.9 630.5,630.2 629.5,615.0C628.5,599.8 628.0,593.3 627.3,585.0C626.6,576.7 626.1,571.0 625.5,565.0C624.9,559.0 624.6,552.2 623.5,549.0C622.4,545.8 620.2,545.5 619.0,546.0C617.8,546.5 617.4,550.2 616.0,552.0C614.6,553.8 613.1,555.5 610.7,556.5C608.3,557.5 605.4,558.2 601.8,558.2C598.2,558.2 593.8,558.5 589.0,556.6C584.2,554.7 578.3,549.1 573.0,547.0C567.7,544.9 562.5,544.6 557.0,543.8C551.5,543.0 545.3,544.3 540.0,542.2C534.7,540.1 528.7,535.4 525.0,531.0C521.3,526.6 520.7,520.5 518.0,516.0C515.3,511.5 511.6,501.3 509.0,504.0C506.4,506.7 504.2,524.0 502.5,532.0C500.8,540.0 500.2,548.3 499.0,552.0C497.8,555.7 496.7,554.2 495.0,554.0C493.3,553.8 491.0,551.0 489.0,551.0C487.0,551.0 485.1,554.1 483.0,554.2C480.9,554.3 478.4,551.6 476.3,551.5C474.2,551.4 472.2,553.2 470.3,553.5C468.4,553.8 466.7,553.2 465.0,553.2C463.3,553.2 461.1,553.5 460.3,553.5Z" fill="#D9D9D9"/>
<path d="M460.3,547.0C461.1,547.0 463.3,546.8 465.0,546.8C466.7,546.8 468.4,547.3 470.3,547.0C472.2,546.7 474.2,544.9 476.3,545.0C478.4,545.1 480.9,547.8 483.0,547.7C485.1,547.6 487.0,544.6 489.0,544.5C491.0,544.4 493.5,547.5 495.0,547.3C496.5,547.0 497.1,547.2 498.0,543.0C498.9,538.8 499.7,530.8 500.5,522.0C501.3,513.2 501.6,502.5 503.0,490.0C504.4,477.5 506.5,450.0 509.0,447.0C511.5,444.0 515.8,464.1 518.0,472.0C520.2,479.9 519.3,485.5 522.3,494.3C525.2,503.1 532.2,518.8 535.7,524.6C539.2,530.5 539.6,528.2 543.1,529.4C546.6,530.5 552.4,530.7 557.0,531.5C561.6,532.3 565.6,532.2 570.9,534.2C576.2,536.2 583.9,541.7 589.0,543.8C594.1,545.9 598.2,546.5 601.8,547.0C605.4,547.5 608.3,548.1 610.7,546.7C613.1,545.3 614.1,542.4 616.0,538.7C617.9,535.0 620.0,524.2 621.8,524.4C623.6,524.6 625.5,534.4 626.6,540.0C627.7,545.6 627.7,552.0 628.4,558.0C629.1,564.0 629.9,571.0 630.8,576.0C631.7,581.0 632.3,584.6 633.8,588.0C635.3,591.4 638.0,595.7 639.9,596.5C641.8,597.3 643.9,594.4 645.3,593.0C646.7,591.6 646.6,590.5 648.4,588.0C650.2,585.5 653.1,581.5 656.0,577.7C658.9,573.9 663.2,568.2 665.7,565.3C668.2,562.3 669.1,561.3 671.0,560.0C672.9,558.7 675.0,558.5 677.3,557.4C679.6,556.2 682.1,554.5 684.8,553.1C687.5,551.7 690.6,550.0 693.3,548.9C696.0,547.8 697.2,547.2 700.8,546.7C704.4,546.2 711.5,546.5 714.7,546.2C717.9,545.9 718.1,545.5 720.0,545.1C721.9,544.8 723.3,544.5 725.9,544.1C728.5,543.7 733.9,542.8 735.5,542.5L735.5,549.5C733.9,549.6 728.5,549.6 725.9,550.0C723.3,550.4 722.8,551.2 720.0,552.1C717.2,553.0 712.0,554.9 709.3,555.3C706.6,555.7 706.3,554.4 704.0,554.7C701.7,555.1 697.8,556.1 695.5,557.4C693.2,558.7 692.0,560.9 690.2,562.7C688.4,564.5 686.7,566.4 684.9,568.0C683.1,569.6 681.5,571.0 679.5,572.3C677.5,573.6 675.1,573.6 673.1,576.0C671.1,578.4 669.5,583.2 667.8,586.7C666.1,590.2 664.1,594.8 663.0,597.3C661.9,599.8 661.8,599.4 660.9,602.0C660.0,604.6 658.9,609.2 657.7,612.7C656.6,616.2 655.5,617.1 654.0,623.3C652.5,629.5 651.2,642.4 648.7,650.0C646.2,657.6 641.3,668.9 638.8,669.0C636.3,669.1 635.0,661.7 633.5,650.9C632.0,640.1 631.0,615.8 630.0,604.0C629.0,592.2 628.3,587.0 627.6,580.0C626.9,573.0 626.4,567.7 625.8,562.0C625.2,556.3 624.8,549.5 623.8,546.0C622.8,542.5 621.3,540.5 620.0,541.0C618.7,541.5 617.5,547.2 616.0,549.3C614.5,551.4 613.1,552.5 610.7,553.5C608.3,554.5 605.4,555.2 601.8,555.0C598.2,554.8 593.8,554.4 589.0,552.3C584.2,550.2 578.3,544.2 573.0,542.2C567.7,540.2 562.3,540.7 557.0,540.0C551.7,539.3 546.3,541.0 541.0,538.0C535.7,535.0 528.8,527.5 525.0,522.0C521.2,516.5 520.7,510.5 518.0,505.0C515.3,499.5 511.7,485.7 509.0,489.0C506.3,492.3 503.8,514.8 502.0,525.0C500.2,535.2 499.7,545.5 498.5,550.0C497.3,554.5 496.6,552.2 495.0,552.0C493.4,551.8 491.0,549.0 489.0,549.0C487.0,549.0 485.1,552.1 483.0,552.2C480.9,552.3 478.4,549.6 476.3,549.5C474.2,549.4 472.2,551.2 470.3,551.5C468.4,551.8 466.7,551.2 465.0,551.2C463.3,551.2 461.1,551.5 460.3,551.5Z" fill="#8C8C8C"/>
<line x1="446.4" y1="548.0" x2="751" y2="548.0" stroke="#333" stroke-width="1.4" stroke-dasharray="5.67 5.67" stroke-dashoffset="2.3"/>
<line x1="499.1" y1="716.9" x2="499.1" y2="424" stroke="#2E2E2E" stroke-width="1.3" stroke-dasharray="5.67 5.67"/>
<path d="M460.3,549.3C461.1,549.2 463.3,549.0 465.0,549.0C466.7,549.0 468.4,549.6 470.3,549.3C472.2,549.0 474.2,547.2 476.3,547.3C478.4,547.4 480.9,550.1 483.0,550.0C485.1,549.9 487.0,546.8 489.0,546.7C491.0,546.7 493.6,549.8 495.0,549.7C496.4,549.6 496.9,549.0 497.7,546.0C498.5,543.0 499.2,538.3 500.0,532.0C500.8,525.7 501.0,518.5 502.5,508.0C504.0,497.5 506.8,473.0 509.0,469.0C511.2,465.0 513.5,476.5 516.0,484.0C518.5,491.5 521.3,507.2 524.0,514.0C526.7,520.8 529.2,521.8 532.0,525.0C534.8,528.2 536.8,531.3 541.0,533.1C545.2,534.9 552.0,535.0 557.0,535.8C562.0,536.6 567.1,536.8 570.9,537.9C574.7,539.0 577.0,541.0 580.0,542.5C583.0,544.0 585.7,545.7 589.0,547.0C592.3,548.3 596.8,549.8 599.7,550.2C602.7,550.6 604.5,549.3 606.7,549.3C608.9,549.3 610.9,551.5 612.7,550.0C614.5,548.5 615.9,542.8 617.3,540.0C618.7,537.2 620.1,533.0 621.2,533.4C622.4,533.8 623.4,538.3 624.2,542.4C625.0,546.5 625.4,552.4 626.0,558.0C626.6,563.6 627.1,569.0 627.8,576.0C628.5,583.0 629.2,592.0 630.2,600.0C631.2,608.0 632.1,618.4 633.5,624.0C634.9,629.6 636.7,633.5 638.8,633.4C640.9,633.3 643.6,628.5 646.3,623.2C649.0,617.9 652.0,608.6 654.8,601.8C657.6,595.0 660.4,588.1 663.3,582.6C666.1,577.1 669.0,572.0 671.9,568.8C674.8,565.6 677.6,565.5 680.4,563.5C683.2,561.5 685.4,559.2 688.5,557.0C691.6,554.8 696.0,551.5 699.2,550.5C702.4,549.5 704.7,551.2 707.7,551.0C710.7,550.8 714.3,550.1 717.3,549.5C720.3,548.9 722.9,547.8 725.9,547.3C728.9,546.8 733.9,546.9 735.5,546.8" fill="none" stroke="#000" stroke-width="2.9" stroke-linejoin="round" stroke-linecap="butt"/>
</g>
<line x1="500.3" y1="424.0" x2="538.2" y2="424.0" stroke="#D0112B" stroke-width="3"/>
<text x="519.25" y="419.3" font-size="12" text-anchor="middle" font-weight="normal" fill="#D0112B" >Early</text>
<line x1="540.0" y1="424.0" x2="577.7" y2="424.0" stroke="#1264B2" stroke-width="3"/>
<text x="558.85" y="419.3" font-size="12" text-anchor="middle" font-weight="normal" fill="#1264B2" >Mid</text>
<line x1="579.6" y1="424.0" x2="617.9" y2="424.0" stroke="#E89B10" stroke-width="3"/>
<text x="598.75" y="419.3" font-size="12" text-anchor="middle" font-weight="normal" fill="#E89B10" >Late</text>
<line x1="446.4" y1="406.3" x2="446.4" y2="715.65" stroke="#151515" stroke-width="1.5"/>
<line x1="445.65" y1="714.9" x2="751" y2="714.9" stroke="#151515" stroke-width="1.5"/>
<line x1="442.7" y1="471.1" x2="446.4" y2="471.1" stroke="#2A2A2A" stroke-width="1.4"/>
<text x="439.79999999999995" y="475.40000000000003" font-size="12" text-anchor="end" font-weight="normal" fill="#4D4D4D" >5.00</text>
<line x1="442.7" y1="548.2" x2="446.4" y2="548.2" stroke="#2A2A2A" stroke-width="1.4"/>
<text x="439.79999999999995" y="552.5" font-size="12" text-anchor="end" font-weight="normal" fill="#4D4D4D" >0.00</text>
<line x1="442.7" y1="625.3" x2="446.4" y2="625.3" stroke="#2A2A2A" stroke-width="1.4"/>
<text x="439.79999999999995" y="629.5999999999999" font-size="12" text-anchor="end" font-weight="normal" fill="#4D4D4D" >−5.00</text>
<line x1="442.7" y1="702.4" x2="446.4" y2="702.4" stroke="#2A2A2A" stroke-width="1.4"/>
<text x="439.79999999999995" y="706.6999999999999" font-size="12" text-anchor="end" font-weight="normal" fill="#4D4D4D" >−10.00</text>
<line x1="499.2" y1="714.9" x2="499.2" y2="718.6" stroke="#2A2A2A" stroke-width="1.4"/>
<text x="499.2" y="730.1" font-size="12" text-anchor="middle" font-weight="normal" fill="#4D4D4D" >0</text>
<line x1="578.5" y1="714.9" x2="578.5" y2="718.6" stroke="#2A2A2A" stroke-width="1.4"/>
<text x="578.5" y="730.1" font-size="12" text-anchor="middle" font-weight="normal" fill="#4D4D4D" >2</text>
<line x1="657.9" y1="714.9" x2="657.9" y2="718.6" stroke="#2A2A2A" stroke-width="1.4"/>
<text x="657.9" y="730.1" font-size="12" text-anchor="middle" font-weight="normal" fill="#4D4D4D" >4</text>
<line x1="737.2" y1="714.9" x2="737.2" y2="718.6" stroke="#2A2A2A" stroke-width="1.4"/>
<text x="737.2" y="730.1" font-size="12" text-anchor="middle" font-weight="normal" fill="#4D4D4D" >6</text>
<text x="597.8499999999999" y="395.1" font-size="17.2" text-anchor="middle" font-weight="bold" fill="#000" >Mean Change: Last−1st Session</text>
<text x="598.6499999999999" y="746.6999999999999" font-size="14.3" text-anchor="middle" font-weight="normal" fill="#000" >Time (s)</text>
<text transform="translate(393.0,560.4) rotate(-90)" font-size="14.3" text-anchor="middle" fill="#000">β<tspan font-size="10" dy="3">3</tspan><tspan dy="-3">(s)</tspan></text>
<text x="375.4" y="395.4" font-size="21.3" text-anchor="start" font-weight="normal" fill="#000" >D</text>
</svg></body></html>
